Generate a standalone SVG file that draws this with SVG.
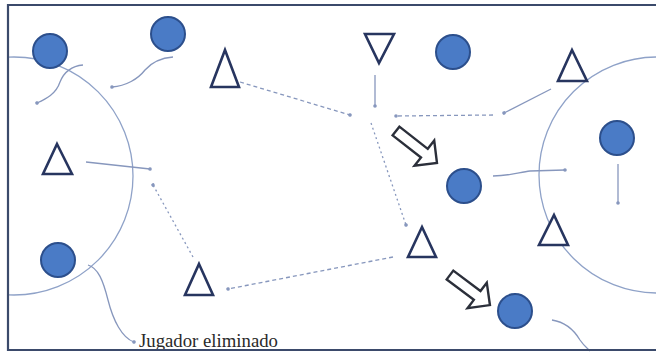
<svg xmlns="http://www.w3.org/2000/svg" width="656" height="354" viewBox="0 0 656 354">
<style>
.pl{fill:#4a7bc6;stroke:#2c4f8c;stroke-width:2}
.tri{fill:#fff;stroke:#27355f;stroke-width:2.6;stroke-linejoin:miter}
.ln{fill:none;stroke:#8797bd;stroke-width:1.3}
.dash{stroke-dasharray:4 3}
.dot{stroke-dasharray:2 3}
.arc{fill:none;stroke:#8fa2c8;stroke-width:1.3}
.blk{fill:#fff;stroke:#2b2f3a;stroke-width:2.4;stroke-linejoin:miter}
.lbl{font-family:"Liberation Serif","Times New Roman",serif;font-size:18px;fill:#2a2a2a}
</style>
<defs>
<marker id="d" markerUnits="userSpaceOnUse" markerWidth="6" markerHeight="6" refX="3" refY="3" orient="auto">
<circle cx="3" cy="3" r="1.8" fill="#8797bd"/>
</marker>
<clipPath id="fr"><rect x="8" y="5" width="660" height="345"/></clipPath>
</defs>
<rect width="656" height="354" fill="#fff"/>
<g id="field-arcs" clip-path="url(#fr)">
<circle class="arc" cx="14" cy="176" r="119"/>
<circle class="arc" cx="657" cy="175" r="118"/>
</g>
<g id="connectors">
<path class="ln" d="M83,65 C72,66 64,72 60,82 C56,94 46,99 37,103" marker-end="url(#d)"/>
<path class="ln" d="M173,57 C160,58 152,62 145,70 C138,79 126,86 112,87" marker-end="url(#d)"/>
<path class="ln" d="M86,162 L150,169" marker-end="url(#d)"/>
<path class="ln dash" d="M240,82 L350,115" marker-end="url(#d)"/>
<path class="ln" d="M375,75 L375,106" marker-end="url(#d)"/>
<path class="ln" d="M551,89 L504,113" marker-end="url(#d)"/>
<path class="ln dash" d="M493,115 L396,116" marker-end="url(#d)"/>
<path class="ln dot" d="M371,123 L406,225" marker-end="url(#d)"/>
<path class="ln dot" d="M193,257 L153,185" marker-end="url(#d)"/>
<path class="ln dash" d="M393,257 L228,289" marker-end="url(#d)"/>
<path class="ln" d="M493,176 C510,176 520,172 530,171 L565,170" marker-end="url(#d)"/>
<path class="ln" d="M618,164 L618,203" marker-end="url(#d)"/>
<path class="ln" d="M88,265 C98,268 103,280 108,300 C113,320 122,338 134,342" marker-end="url(#d)"/>
<path class="ln" d="M552,320 C565,322 574,330 580,340 C584,346 588,349 590,351"/>
</g>
<g id="player-c1"><circle class="pl" cx="50" cy="51" r="17"/></g>
<g id="player-c2"><circle class="pl" cx="168" cy="34" r="17"/></g>
<g id="player-c3"><circle class="pl" cx="58" cy="260" r="17"/></g>
<g id="player-c4"><circle class="pl" cx="453" cy="52" r="17"/></g>
<g id="player-c5"><circle class="pl" cx="617" cy="138" r="17"/></g>
<g id="player-c6"><circle class="pl" cx="464" cy="186" r="17"/></g>
<g id="player-c7"><circle class="pl" cx="515" cy="311" r="17"/></g>
<g id="player-t1"><polygon class="tri" points="225,50 239,87 211,87"/></g>
<g id="player-t2"><polygon class="tri" points="57,144 72,174 43,174"/></g>
<g id="player-t3"><polygon class="tri" points="199,264 213,295 185,295"/></g>
<g id="player-t4"><polygon class="tri" points="422,227 436,257 408,257"/></g>
<g id="player-t5"><polygon class="tri" points="365,34 394,34 379,63"/></g>
<g id="player-t6"><polygon class="tri" points="572,50 587,81 558,81"/></g>
<g id="player-t7"><polygon class="tri" points="554,215 568,245 539,245"/></g>
<g id="move-arrow-1"><polygon class="blk" transform="translate(396,131) rotate(38)" points="0,-5.5 36,-5.5 36,-16 52,0 36,16 36,5.5 0,5.5"/></g>
<g id="move-arrow-2"><polygon class="blk" transform="translate(450,275) rotate(37)" points="0,-5.5 34,-5.5 34,-16 50,0 34,16 34,5.5 0,5.5"/></g>
<g id="label"><text class="lbl" x="139" y="347" textLength="139" lengthAdjust="spacingAndGlyphs">Jugador eliminado</text></g>
<g id="frame"><polyline points="660,5 8,5 8,350 660,350" fill="none" stroke="#3b4a6b" stroke-width="2.2"/></g>
</svg>
